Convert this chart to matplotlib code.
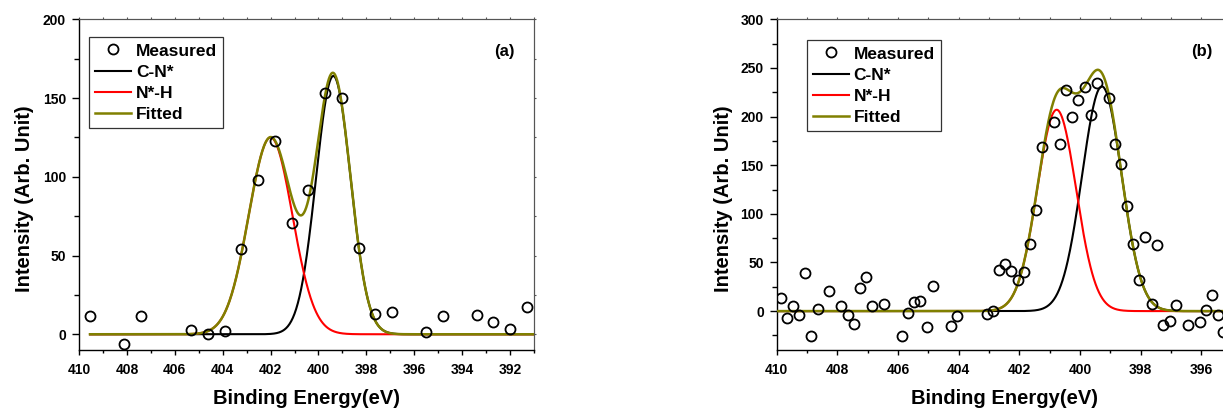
import matplotlib
matplotlib.use('Agg')
import matplotlib.pyplot as plt
import numpy as np
from matplotlib.ticker import MultipleLocator

plt.rcParams['font.family'] = ['Liberation Sans', 'DejaVu Sans']
plt.rcParams['font.weight'] = 'bold'

# ---------------- data ----------------
# Panel (a): measured points
a_energy = [409.54, 408.13, 407.43, 405.32, 404.62, 403.92, 403.22, 402.53,
            401.81, 401.11, 400.42, 399.72, 399.02, 398.32, 397.62, 396.91,
            395.51, 394.81, 393.40, 392.70, 392.00, 391.30]
a_intensity = [11.3, -6.4, 11.3, 2.8, 0.0, 2.1, 54.4, 97.7,
               122.5, 70.5, 91.3, 152.9, 149.9, 55.0, 12.7, 14.4,
               1.5, 11.3, 12.3, 7.6, 3.6, 17.6]

# Panel (b): measured points
b_energy = [409.85, 409.66, 409.46, 409.26, 409.06, 408.86, 408.65, 408.26,
            407.87, 407.66, 407.46, 407.27, 407.07, 406.86, 406.47, 405.86,
            405.66, 405.46, 405.26, 405.06, 404.86, 404.26, 404.05, 403.07,
            402.87, 402.67, 402.46, 402.26, 402.06, 401.86, 401.65, 401.45,
            401.26, 400.85, 400.65, 400.45, 400.25, 400.06, 399.85, 399.65,
            399.44, 399.04, 398.84, 398.64, 398.45, 398.24, 398.05, 397.85,
            397.64, 397.45, 397.25, 397.04, 396.84, 396.44, 396.05, 395.85,
            395.64, 395.44, 395.29]
b_intensity = [13.4, -7.2, 4.8, -4.5, 39.1, -25.7, 2.4, 20.6,
               5.1, -4.1, -13.0, 24.0, 35.4, 5.1, 6.9, -25.7,
               -1.7, 9.3, 10.3, -16.8, 25.7, -15.4, -5.1, -2.7,
               0.0, 42.6, 48.7, 41.2, 32.3, 40.2, 69.3, 104.4,
               168.9, 194.0, 171.6, 227.3, 199.8, 217.0, 230.0, 201.5,
               234.8, 219.4, 171.6, 151.0, 108.1, 69.0, 32.3, 75.9,
               7.6, 68.3, -14.8, -10.3, 6.5, -14.8, -11.3, 1.4,
               16.8, -4.5, -21.0]

# Fitted components: [C-N*, N*-H] centre (eV), height, gaussian sigma (eV)
a_centers = [399.38, 402.00]
a_heights = [164.0, 125.0]
a_sigmas = [0.72, 0.91]

b_centers = [399.28, 400.77]
b_heights = [231.0, 207.0]
b_sigmas = [0.65, 0.64]

legend_labels = ['Measured', 'C-N*', 'N*-H', 'Fitted']
panel_tags = ['(a)', '(b)']

OLIVE = '#808000'


def gauss(x, c, h, s):
    return h * np.exp(-(x - c) ** 2 / (2 * s ** 2))


fig = plt.figure(figsize=(12.23, 4.09), dpi=100)

W, H = 1223.0, 409.0
ax_a = fig.add_axes([79 / W, 1 - 350 / H, 455 / W, 330.7 / H])
ax_b = fig.add_axes([776.7 / W, 1 - 350 / H, 455 / W, 330.7 / H])


def draw_panel(ax, energy, inten, centers, heights, sigmas, xgrid, xlim, ylim,
               ymaj, tag, leg_anchor):
    cn = gauss(xgrid, centers[0], heights[0], sigmas[0])
    nh = gauss(xgrid, centers[1], heights[1], sigmas[1])
    fit = cn + nh
    l1, = ax.plot(xgrid, cn, color='black', lw=1.5, zorder=2)
    l2, = ax.plot(xgrid, nh, color='red', lw=1.5, zorder=2)
    l3, = ax.plot(xgrid, fit, color=OLIVE, lw=1.8, zorder=3)
    p, = ax.plot(energy, inten, linestyle='none', marker='o', ms=7.2,
                 mfc='none', mec='black', mew=1.3, zorder=4)
    ax.set_xlim(*xlim)
    ax.set_ylim(*ylim)
    ax.xaxis.set_major_locator(MultipleLocator(2))
    ax.xaxis.set_minor_locator(MultipleLocator(1))
    ax.yaxis.set_major_locator(MultipleLocator(ymaj))
    ax.yaxis.set_minor_locator(MultipleLocator(ymaj / 2))
    ax.tick_params(axis='x', which='major', direction='out', length=3.6,
                   width=1, pad=5.5, labelsize=10)
    ax.tick_params(axis='x', which='minor', direction='out', length=2.2, width=1)
    ax.tick_params(axis='y', which='major', direction='out', length=5,
                   width=1, pad=4.3, labelsize=10)
    ax.tick_params(axis='y', which='minor', direction='out', length=3.3, width=1)
    for lab in ax.get_xticklabels() + ax.get_yticklabels():
        lab.set_fontweight('bold')
    ax.spines['left'].set_linewidth(1.0)
    ax.spines['bottom'].set_linewidth(1.0)
    for s in ('top', 'right'):
        ax.spines[s].set_linewidth(0.8)
        ax.spines[s].set_color('#555555')
    # top / right small ticks
    sx = ax.secondary_xaxis('top')
    sx.xaxis.set_major_locator(MultipleLocator(2))
    sx.xaxis.set_minor_locator(MultipleLocator(1))
    sx.tick_params(which='both', direction='out', length=1.5, width=0.8,
                   labeltop=False, color='#555555')
    sx.spines['top'].set_color('#555555')
    sx.spines['top'].set_linewidth(0.8)
    sy = ax.secondary_yaxis('right')
    sy.yaxis.set_major_locator(MultipleLocator(ymaj))
    sy.yaxis.set_minor_locator(MultipleLocator(ymaj / 2))
    sy.tick_params(which='both', direction='out', length=1.5, width=0.8,
                   labelright=False, color='#555555')
    sy.spines['right'].set_color('#555555')
    sy.spines['right'].set_linewidth(0.8)

    leg = ax.legend([p, l1, l2, l3], legend_labels, loc='upper left',
                    bbox_to_anchor=leg_anchor, bbox_transform=ax.transAxes,
                    prop={'size': 12.5, 'weight': 'bold'}, frameon=True,
                    fancybox=False, shadow=False, framealpha=1,
                    edgecolor='#333333', borderpad=0.35, labelspacing=0.35,
                    handlelength=2.07, handletextpad=0.3, borderaxespad=0,
                    numpoints=1)
    leg.get_frame().set_linewidth(0.9)
    ax.text(0.935, 0.904, tag, transform=ax.transAxes, ha='center',
            va='center', fontsize=12, fontweight='bold')


draw_panel(ax_a, a_energy, a_intensity, a_centers, a_heights, a_sigmas,
           np.linspace(a_energy[0], 391.0, 800), (410, 391), (-10, 200), 50,
           panel_tags[0], (10 / 455, 1 - 18 / 330.7))
draw_panel(ax_b, b_energy, b_intensity, b_centers, b_heights, b_sigmas,
           np.linspace(410, 395, 800), (410, 395), (-40, 300), 50,
           panel_tags[1], (29.8 / 455, 1 - 21 / 330.7))

# axis titles
for cx, lx in ((306.5, 30.5), (1004.2, 729.0)):
    fig.text(cx / W, 1 - 404 / H, 'Binding Energy(eV)', ha='center',
             va='baseline', fontsize=14.5, fontweight='bold')
    fig.text(lx / W, 1 - 198.5 / H, 'Intensity (Arb. Unit)', ha='center',
             va='baseline', rotation=90, rotation_mode='anchor',
             fontsize=14.5, fontweight='bold')

fig.savefig('out.png', dpi=100)
